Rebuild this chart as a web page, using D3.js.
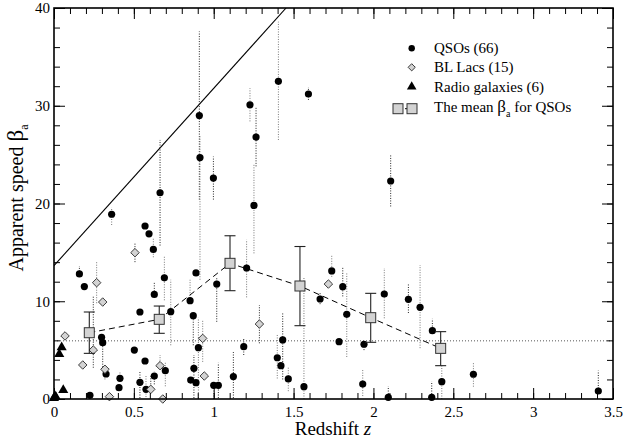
<!DOCTYPE html>
<html><head><meta charset="utf-8">
<script src="https://cdn.jsdelivr.net/npm/d3@7"></script>
<style>
body{margin:0;background:#fff}
svg{display:block}
svg text{font-family:"Liberation Serif","Times New Roman",Times,"DejaVu Serif",serif !important;fill:#000}
</style>
</head><body>
<svg id="c" width="623" height="442"></svg>
<script>
// ---- data ----
const qsoZ = [0.91,0.914,0.998,0.361,0.664,1.405,1.593,1.227,1.265,1.252,2.108,0.570,0.595,0.622,0.159,0.190,0.691,0.628,0.538,0.731,0.298,0.305,0.503,0.570,0.697,0.628,0.326,0.413,0.407,0.538,0.576,0.225,0.889,1.019,0.852,0.872,0.904,0.876,0.856,0.889,1.0,1.029,1.206,1.188,1.398,1.421,1.432,1.467,1.123,1.565,1.666,1.739,1.808,1.833,1.785,1.941,2.068,2.219,1.933,2.093,2.292,2.369,2.428,2.365,2.626,3.408];
const qsoB = [29.0,24.7,22.6,18.9,21.1,32.5,31.2,30.1,26.8,19.8,22.3,17.7,16.9,15.3,12.8,11.5,12.4,10.7,8.9,8.93,6.31,5.76,5.01,3.89,2.9,2.35,2.56,2.12,1.16,1.71,0.99,0.38,12.9,11.76,10.06,8.52,5.25,3.14,1.94,1.67,1.4,1.4,13.4,5.35,4.22,3.41,6.04,2.05,2.29,1.26,10.23,13.1,11.49,8.66,5.86,5.6,10.74,10.2,1.53,0.17,9.38,6.99,1.77,0.17,2.53,0.82];
const qsoLo = [20.4,12.2,20.4,17.8,15.7,26.5,30.6,28.4,23.8,14.9,19.7,17.7,16.9,14.5,12.8,11.5,10.1,10.5,8.9,5.5,6.31,3.0,5.01,3.89,1.3,1.5,2.56,2.1,1.16,0.1,0.2,0.38,12.9,7.9,10.06,5.5,0.1,0.1,1.94,1.67,0,0.1,10.4,4.5,2.1,3.41,2.0,0.8,0.1,0,9.7,12.5,10.5,4.3,5.86,5.0,8.26,8.8,0.3,0,5.2,6.9,0,0,1.26,0.82];
const qsoHi = [37.6,27.0,24.8,19.6,26.5,38.6,31.9,31.8,29.9,24.0,25.0,17.7,16.9,16.5,13.6,11.5,14.6,12.0,8.9,12.2,6.31,5.76,5.01,3.89,3.8,2.8,2.56,2.8,1.16,2.8,2.4,0.38,12.9,12.5,12.2,8.52,8.3,4.5,1.94,1.67,1.4,3.7,16.3,6.2,6.7,3.41,8.8,3.3,4.8,12.5,10.9,14.7,13.5,12.9,5.86,5.6,13.4,11.8,3.1,1.3,13.7,8.2,3.5,1.8,3.8,2.9];

const blZ = [0.069,0.267,0.305,0.246,0.18,0.319,0.347,0.507,0.664,0.606,0.681,0.931,0.941,1.286,1.718];
const blB = [6.45,11.9,9.92,5.01,3.48,3.04,0.24,14.97,3.41,0.99,0.0,6.2,2.35,7.67,11.76];
const blLo = [6.45,9.8,9.92,3.2,3.48,2.0,0.24,14.0,3.41,0.99,0,3.8,2.35,5.7,11.76];
const blHi = [6.45,14.0,9.92,10.6,3.48,3.5,0.24,15.9,4.5,2.5,0,8.0,2.35,9.6,11.76];

const rgZ = [0.048,0.033,0.058,0.006,0.012,0.0];
const rgB = [5.28,4.6,0.92,0.3,0.2,0.1];

const meanZ = [0.221,0.659,1.102,1.540,1.983,2.421];
const meanB = [6.78,8.15,13.88,11.56,8.32,5.18];
const meanLo = [4.67,6.72,11.08,7.5,5.8,3.41];
const meanHi = [8.9,9.51,16.7,15.6,10.81,6.89];

const diagZ = [0, 1.453];
const diagB = [13.64, 40];
const refLevel = 5.95;

const xMajor = [0,0.5,1,1.5,2,2.5,3,3.5];
const xMajorLabels = ["0","0.5","1","1.5","2","2.5","3","3.5"];
const yMajor = [0,10,20,30,40];
const yMajorLabels = ["0","10","20","30","40"];

const legendLabels = ["QSOs (66)","BL Lacs (15)","Radio galaxies (6)"];

// ---- layout ----
const FONT = "'Liberation Serif','Times New Roman',Times,'DejaVu Serif',serif";
const svg = d3.select("#c");
const L = 54, R = 613, T = 8, B = 399;
const x = d3.scaleLinear().domain([0,3.5]).range([L,R]);
const y = d3.scaleLinear().domain([0,40]).range([B,T]);

svg.append("defs").append("clipPath").attr("id","clip")
  .append("rect").attr("x",L).attr("y",T).attr("width",R-L).attr("height",B-T);

const plot = svg.append("g");
const clipped = plot.append("g").attr("clip-path","url(#clip)");

clipped.append("line").attr("x1",x(0)).attr("x2",x(3.5)).attr("y1",y(refLevel)).attr("y2",y(refLevel))
  .attr("stroke","#555").attr("stroke-width",1).attr("stroke-dasharray","1,2");

clipped.append("line").attr("x1",x(diagZ[0])).attr("y1",y(diagB[0])).attr("x2",x(diagZ[1])).attr("y2",y(diagB[1]))
  .attr("stroke","#000").attr("stroke-width",1.1);

const qso = qsoZ.map((z,i)=>({z,b:qsoB[i],lo:qsoLo[i],hi:qsoHi[i]}));
const bl = blZ.map((z,i)=>({z,b:blB[i],lo:blLo[i],hi:blHi[i]}));
const errs = qso.concat(bl).filter(d=>d.hi>d.lo);
clipped.selectAll(".err").data(errs).enter().append("line")
  .attr("x1",d=>x(d.z)).attr("x2",d=>x(d.z))
  .attr("y1",d=>y(d.lo)).attr("y2",d=>y(d.hi))
  .attr("stroke",(d,i)=>i%2?"#777":"#222").attr("stroke-width",1).attr("stroke-dasharray","1,1.5");

const mean = meanZ.map((z,i)=>({z,b:meanB[i],lo:meanLo[i],hi:meanHi[i]}));
plot.append("path").datum(mean)
  .attr("d",d3.line().x(d=>x(d.z)).y(d=>y(d.b)))
  .attr("fill","none").attr("stroke","#000").attr("stroke-width",1).attr("stroke-dasharray","6,4");

plot.selectAll(".q").data(qso).enter().append("circle")
  .attr("cx",d=>x(d.z)).attr("cy",d=>y(d.b)).attr("r",3.6).attr("fill","#000");

plot.selectAll(".b").data(bl).enter().append("path")
  .attr("transform",d=>`translate(${x(d.z)},${y(d.b)}) rotate(45)`)
  .attr("d",d3.symbol().type(d3.symbolSquare).size(36))
  .attr("fill","#d3d3d3").attr("stroke","#333").attr("stroke-width",0.9);

const rg = rgZ.map((z,i)=>({z,b:rgB[i]}));
plot.selectAll(".r").data(rg).enter().append("path")
  .attr("transform",d=>`translate(${x(d.z)},${y(d.b)})`)
  .attr("d",d3.symbol().type(d3.symbolTriangle).size(44))
  .attr("fill","#000");

const eb = plot.selectAll(".eb").data(mean).enter().append("g").attr("stroke","#222").attr("stroke-width",1.1);
eb.append("line").attr("x1",d=>x(d.z)).attr("x2",d=>x(d.z)).attr("y1",d=>y(d.lo)).attr("y2",d=>y(d.hi));
eb.append("line").attr("x1",d=>x(d.z)-5.5).attr("x2",d=>x(d.z)+5.5).attr("y1",d=>y(d.lo)).attr("y2",d=>y(d.lo));
eb.append("line").attr("x1",d=>x(d.z)-5.5).attr("x2",d=>x(d.z)+5.5).attr("y1",d=>y(d.hi)).attr("y2",d=>y(d.hi));
plot.selectAll(".ms").data(mean).enter().append("rect")
  .attr("x",d=>x(d.z)-5).attr("y",d=>y(d.b)-5).attr("width",10).attr("height",10)
  .attr("fill","#d3d3d3").attr("stroke","#333").attr("stroke-width",1);

// ---- axes ----
function styleAxis(g){
  g.attr("font-family",FONT);
  g.select(".domain").remove();
  g.selectAll("line").attr("stroke","#000").attr("stroke-width",1);
  g.selectAll("text").attr("font-size",15).style("font-family",FONT);
}
const xMinor = d3.range(0,36).map(i=>i/10);
const yMinor = d3.range(0,21).map(i=>i*2);

svg.append("g").attr("transform",`translate(0,${B})`)
  .call(d3.axisBottom(x).tickValues(xMinor).tickSize(-6).tickFormat("")).call(styleAxis);
svg.append("g").attr("transform",`translate(0,${B})`)
  .call(d3.axisBottom(x).tickValues(xMajor).tickSize(-11).tickPadding(7).tickFormat((d,i)=>xMajorLabels[i]))
  .call(styleAxis);
svg.append("g").attr("transform",`translate(0,${T})`)
  .call(d3.axisTop(x).tickValues(xMinor).tickSize(-6).tickFormat("")).call(styleAxis);
svg.append("g").attr("transform",`translate(0,${T})`)
  .call(d3.axisTop(x).tickValues(xMajor).tickSize(-11).tickFormat("")).call(styleAxis);

svg.append("g").attr("transform",`translate(${L},0)`)
  .call(d3.axisLeft(y).tickValues(yMinor).tickSize(-6).tickFormat("")).call(styleAxis);
svg.append("g").attr("transform",`translate(${L},0)`)
  .call(d3.axisLeft(y).tickValues(yMajor).tickSize(-11).tickPadding(4).tickFormat((d,i)=>yMajorLabels[i]))
  .call(styleAxis);
svg.append("g").attr("transform",`translate(${R},0)`)
  .call(d3.axisRight(y).tickValues(yMinor).tickSize(-6).tickFormat("")).call(styleAxis);
svg.append("g").attr("transform",`translate(${R},0)`)
  .call(d3.axisRight(y).tickValues(yMajor).tickSize(-11).tickFormat("")).call(styleAxis);

svg.append("rect").attr("x",L).attr("y",T).attr("width",R-L).attr("height",B-T)
  .attr("fill","none").attr("stroke","#000").attr("stroke-width",1.6);

// axis titles
const xt = svg.append("text").attr("x",333).attr("y",435).attr("text-anchor","middle").attr("font-size",19).style("font-family",FONT);
xt.append("tspan").text("Redshift  ");
xt.append("tspan").attr("font-style","italic").text("z");

const yt = svg.append("text").attr("transform","translate(23,198) rotate(-90)").attr("text-anchor","middle").attr("font-size",20).style("font-family",FONT);
yt.append("tspan").text("Apparent speed  ");
yt.append("tspan").attr("font-size",23).text("β");
yt.append("tspan").attr("font-size",12).attr("dy",5).text("a");

// ---- legend ----
const lx = 411.7, ltx = 434;
const rows = [48.3, 67.3, 86.7, 108.7];
svg.append("circle").attr("cx",lx).attr("cy",rows[0]).attr("r",3.2).attr("fill","#000");
svg.append("path").attr("transform",`translate(${lx},${rows[1]}) rotate(45)`)
  .attr("d",d3.symbol().type(d3.symbolSquare).size(26)).attr("fill","#d3d3d3").attr("stroke","#333").attr("stroke-width",0.9);
svg.append("path").attr("transform",`translate(${lx},${rows[2]})`)
  .attr("d",d3.symbol().type(d3.symbolTriangle).size(40)).attr("fill","#000");
svg.append("line").attr("x1",398).attr("x2",412).attr("y1",rows[3]).attr("y2",rows[3])
  .attr("stroke","#000").attr("stroke-dasharray","4,3");
[398,412].forEach(cx=>svg.append("rect").attr("x",cx-5).attr("y",rows[3]-5).attr("width",10).attr("height",10)
  .attr("fill","#d3d3d3").attr("stroke","#333"));
legendLabels.forEach((t,i)=>svg.append("text").attr("x",ltx).attr("y",rows[i]+5).attr("font-size",15).style("font-family",FONT).text(t));
const lt = svg.append("text").attr("x",ltx).attr("y",rows[3]+3).attr("font-size",15).style("font-family",FONT);
lt.append("tspan").text("The mean ");
lt.append("tspan").attr("font-size",17).text("β");
lt.append("tspan").attr("font-size",10).attr("dy",5).text("a");
lt.append("tspan").attr("dy",-5).text(" for QSOs");
</script>
</body></html>
